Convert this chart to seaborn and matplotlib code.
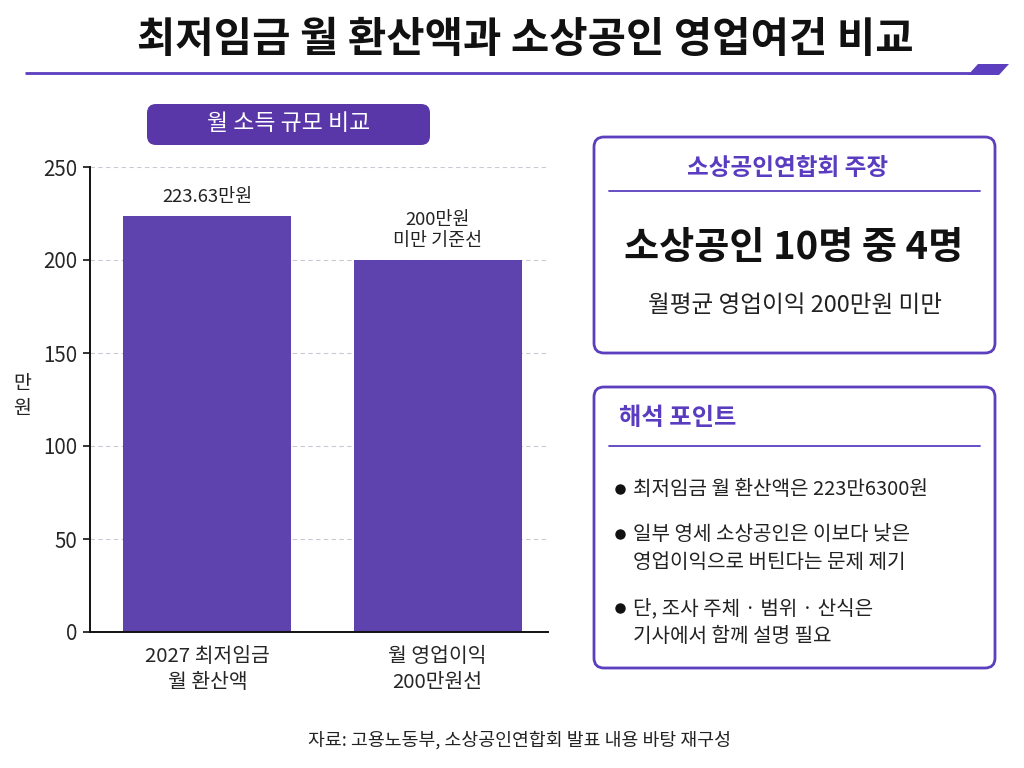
import matplotlib.pyplot as plt
import pandas as pd
import seaborn as sns
from matplotlib.patches import FancyBboxPatch, Polygon

# chart data
categories = ["2027 최저임금\n월 환산액", "월 영업이익\n200만원선"]
values = [223.63, 200]
bar_labels = ["223.63만원", "200만원\n미만 기준선"]
y_ticks = [0, 50, 100, 150, 200, 250]

title = "최저임금 월 환산액과 소상공인 영업여건 비교"
panel_title = "월 소득 규모 비교"
claim_header = "소상공인연합회 주장"
claim_main = "소상공인 10명 중 4명"
claim_sub = "월평균 영업이익 200만원 미만"
points_header = "해석 포인트"
points = [
    "최저임금 월 환산액은 223만6300원",
    "일부 영세 소상공인은 이보다 낮은\n영업이익으로 버틴다는 문제 제기",
    "단, 조사 주체 · 범위 · 산식은\n기사에서 함께 설명 필요",
]
source = "자료: 고용노동부, 소상공인연합회 발표 내용 바탕 재구성"

PURPLE = "#5e42ae"
BORDER = "#5b3fbf"
HEAD = "#5a3cc0"

sns.set_theme(style="white")
plt.rcParams["font.family"] = ["Noto Sans CJK KR", "DejaVu Sans"]

W, H = 1024, 768
fig = plt.figure(figsize=(W / 100, H / 100), dpi=100)

# overlay in pixel coordinates for the decorations
deco = fig.add_axes([0, 0, 1, 1])
deco.set_xlim(0, W)
deco.set_ylim(H, 0)
deco.axis("off")

deco.text(525, 40, title, ha="center", va="center", fontsize=30, fontweight="bold", color="#111111")
deco.plot([25, 972], [73, 73], color=BORDER, lw=2, solid_capstyle="butt")
deco.add_patch(Polygon([[978, 64], [1009, 64], [999, 75], [968, 75]], closed=True, color=BORDER, lw=0))

# pill title over the bar chart
deco.add_patch(FancyBboxPatch((147, 104), 283, 41, boxstyle="round,pad=0,rounding_size=9",
                              fc="#5a37a8", ec="none"))
deco.text(289, 124, panel_title, ha="center", va="center", fontsize=16.5, color="white", fontweight="medium")

# right-hand boxes
deco.add_patch(FancyBboxPatch((594, 137), 401, 216, boxstyle="round,pad=0,rounding_size=10",
                              fc="white", ec=BORDER, lw=2))
deco.text(788, 168, claim_header, ha="center", va="center", fontsize=17, color=HEAD, fontweight="bold")
deco.plot([609, 980], [191, 191], color=BORDER, lw=1.3)
deco.text(794, 247, claim_main, ha="center", va="center", fontsize=27.5, color="#111111", fontweight="bold")
deco.text(795, 305, claim_sub, ha="center", va="center", fontsize=17, color="#222222")

deco.add_patch(FancyBboxPatch((594, 387), 401, 281, boxstyle="round,pad=0,rounding_size=10",
                              fc="white", ec=BORDER, lw=2))
deco.text(619, 418, points_header, ha="left", va="center", fontsize=17.5, color=HEAD, fontweight="bold")
deco.plot([609, 980], [446, 446], color=BORDER, lw=1.3)
bullet_y = [488, 533, 607]
for y, txt in zip(bullet_y, points):
    deco.plot(620, y + 1, "o", color="#111111", ms=6.5)
    deco.text(633, y - 9, txt, ha="left", va="top", fontsize=14.5, color="#222222", linespacing=1.45)

deco.text(520, 740, source, ha="center", va="center", fontsize=13.2, color="#222222")

# bar chart
ax = fig.add_axes([90 / W, 1 - 632 / H, (548 - 90) / W, (632 - 167) / H])
ax.patch.set_alpha(0)
df = pd.DataFrame({"category": categories, "value": values})
sns.barplot(data=df, x="category", y="value", color=PURPLE, saturation=1, width=0.73,
            linewidth=0, ax=ax, zorder=2)

for i, (v, lab) in enumerate(zip(values, bar_labels)):
    ax.annotate(lab, (i, v), xytext=(0, 7), textcoords="offset points", ha="center", va="bottom",
                fontsize=13.3, color="#222222", linespacing=1.25)

ax.set_ylim(0, 250)
ax.set_xlim(-0.51, 1.48)
ax.set_yticks(y_ticks)
ax.yaxis.grid(True, linestyle=(0, (4, 3)), color="#c9c9d3", lw=0.8, zorder=0)
ax.set_axisbelow(True)
ax.tick_params(axis="y", length=5, width=1.2, color="#111111", labelsize=14.8, pad=4, left=True)
ax.tick_params(axis="x", length=0, labelsize=14.7, pad=10)
for t in ax.get_xticklabels():
    t.set_linespacing(1.3)
for s in ["top", "right"]:
    ax.spines[s].set_visible(False)
for s in ["left", "bottom"]:
    ax.spines[s].set_color("#111111")
    ax.spines[s].set_linewidth(1.4)
ax.set_xlabel("")
ax.set_ylabel("")
fig.text(22 / W, 1 - 396 / H, "만\n원", ha="center", va="center", fontsize=14, color="#222222", linespacing=1.3)

fig.savefig("out.png", dpi=100)
